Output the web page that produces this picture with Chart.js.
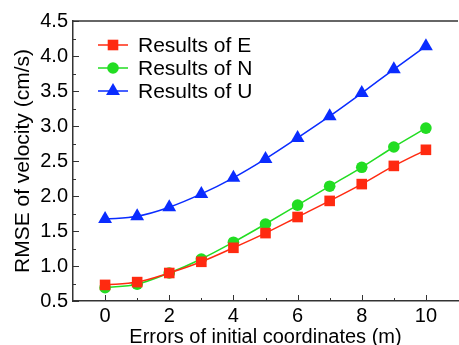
<!DOCTYPE html>
<html lang="en">
<head>
  <meta charset="UTF-8">
  <title>RMSE of velocity</title>
  <script src="https://cdn.jsdelivr.net/npm/chart.js"></script>
  <style>
    html, body { margin: 0; padding: 0; background: #fff; overflow: hidden; }
    #wrap { position: relative; width: 466px; height: 345px; }
  </style>
</head>
<body>
  <div id="wrap"><canvas id="rmseChart"></canvas></div>

  <script>
    // errors of initial coordinates (m)
    const errors = [0, 1, 2, 3, 4, 5, 6, 7, 8, 9, 10];
    // RMSE of velocity (cm/s)
    const resultsE = [0.73, 0.77, 0.90, 1.06, 1.26, 1.47, 1.70, 1.93, 2.17, 2.43, 2.66];
    const resultsN = [0.69, 0.74, 0.90, 1.10, 1.34, 1.60, 1.87, 2.14, 2.41, 2.70, 2.97];
    const resultsU = [1.67, 1.71, 1.84, 2.03, 2.26, 2.53, 2.83, 3.14, 3.47, 3.81, 4.14];
    const xTicks = [0, 2, 4, 6, 8, 10];
    const yTicks = [0.5, 1.0, 1.5, 2.0, 2.5, 3.0, 3.5, 4.0, 4.5];

    const FONT = "'Liberation Sans', Arial, sans-serif";
    const AXIS = "#333";

    function pts(ys) {
      return errors.map((x, i) => ({ x: x, y: ys[i] }));
    }

    // inward ticks, top frame line and legend drawn inside the plot
    const framePlugin = {
      id: "frame",
      afterDraw(chart) {
        const ctx = chart.ctx;
        const a = chart.chartArea;
        const xs = chart.scales.x, ys = chart.scales.y;
        ctx.save();
        ctx.strokeStyle = AXIS;
        ctx.lineWidth = 1.5;
        ctx.beginPath();
        ctx.moveTo(a.left, a.top);
        ctx.lineTo(a.right, a.top);
        ctx.stroke();

        ctx.lineWidth = 1;
        ctx.beginPath();
        for (let v = 0; v <= 10; v++) {
          const px = Math.round(xs.getPixelForValue(v)) + 0.5;
          const len = v % 2 === 0 ? 6 : 3;
          ctx.moveTo(px, a.bottom);
          ctx.lineTo(px, a.bottom - len);
        }
        for (let v = 0.5; v <= 4.5; v += 0.25) {
          const py = Math.round(ys.getPixelForValue(v)) + 0.5;
          const len = Math.abs(v * 2 - Math.round(v * 2)) < 1e-6 ? 6 : 3;
          ctx.moveTo(a.left, py);
          ctx.lineTo(a.left + len, py);
        }
        ctx.stroke();

        // legend
        chart.data.datasets.forEach((ds, i) => {
          const y = 45 + i * 23;
          ctx.strokeStyle = ds.borderColor;
          ctx.lineWidth = 1.5;
          ctx.beginPath();
          ctx.moveTo(98, y);
          ctx.lineTo(128, y);
          ctx.stroke();
          ctx.fillStyle = ds.backgroundColor;
          Chart.helpers.drawPoint(ctx, {
            pointStyle: ds.pointStyle,
            radius: ds.pointRadius,
            borderWidth: 0
          }, 113, y);
          ctx.fillStyle = "#000";
          ctx.font = "21px " + FONT;
          ctx.textBaseline = "middle";
          ctx.fillText(ds.label, 138, y + 1);
        });
        ctx.restore();
      }
    };

    const ctx = document.getElementById("rmseChart").getContext("2d");
    new Chart(ctx, {
      type: "line",
      data: {
        datasets: [
          { label: "Results of E", data: pts(resultsE), borderColor: "#ff2a10", backgroundColor: "#ff2a10",
            pointStyle: "rect", pointRadius: 7.5, pointBorderWidth: 0 },
          { label: "Results of N", data: pts(resultsN), borderColor: "#22dd22", backgroundColor: "#22dd22",
            pointStyle: "circle", pointRadius: 5.8, pointBorderWidth: 0 },
          { label: "Results of U", data: pts(resultsU), borderColor: "#0a2cff", backgroundColor: "#0a2cff",
            pointStyle: "triangle", pointRadius: 8, pointBorderWidth: 0 }
        ]
      },
      options: {
        responsive: true,
        maintainAspectRatio: false,
        animation: false,
        layout: { padding: { top: 21, right: 0, left: 0, bottom: 0 } },
        elements: { line: { borderWidth: 1.5, cubicInterpolationMode: "monotone" } },
        plugins: { legend: { display: false }, tooltip: { enabled: false } },
        scales: {
          x: {
            type: "linear",
            min: -1,
            max: 11,
            afterBuildTicks: s => { s.ticks = xTicks.map(v => ({ value: v })); },
            afterFit: s => { s.height = 44; },
            grid: { drawOnChartArea: false, drawTicks: false },
            border: { color: AXIS, width: 1.5 },
            ticks: { color: "#000", font: { family: FONT, size: 20 }, padding: 3, maxRotation: 0 },
            title: { display: true, text: "Errors of initial coordinates (m)", color: "#000",
                     font: { family: FONT, size: 20, lineHeight: 0.8 }, padding: { top: 0, bottom: 0 } }
          },
          y: {
            min: 0.5,
            max: 4.5,
            afterBuildTicks: s => { s.ticks = yTicks.map(v => ({ value: v })); },
            afterFit: s => { s.width = 73; },
            grid: { drawOnChartArea: false, drawTicks: false },
            border: { color: AXIS, width: 1.5 },
            ticks: { color: "#000", font: { family: FONT, size: 20 }, padding: 5,
                     callback: v => v.toFixed(1) },
            title: { display: true, text: "RMSE of velocity (cm/s)", color: "#000",
                     font: { family: FONT, size: 21 }, padding: { top: 11, bottom: 0 } }
          }
        }
      },
      plugins: [framePlugin]
    });
  </script>
</body>
</html>
